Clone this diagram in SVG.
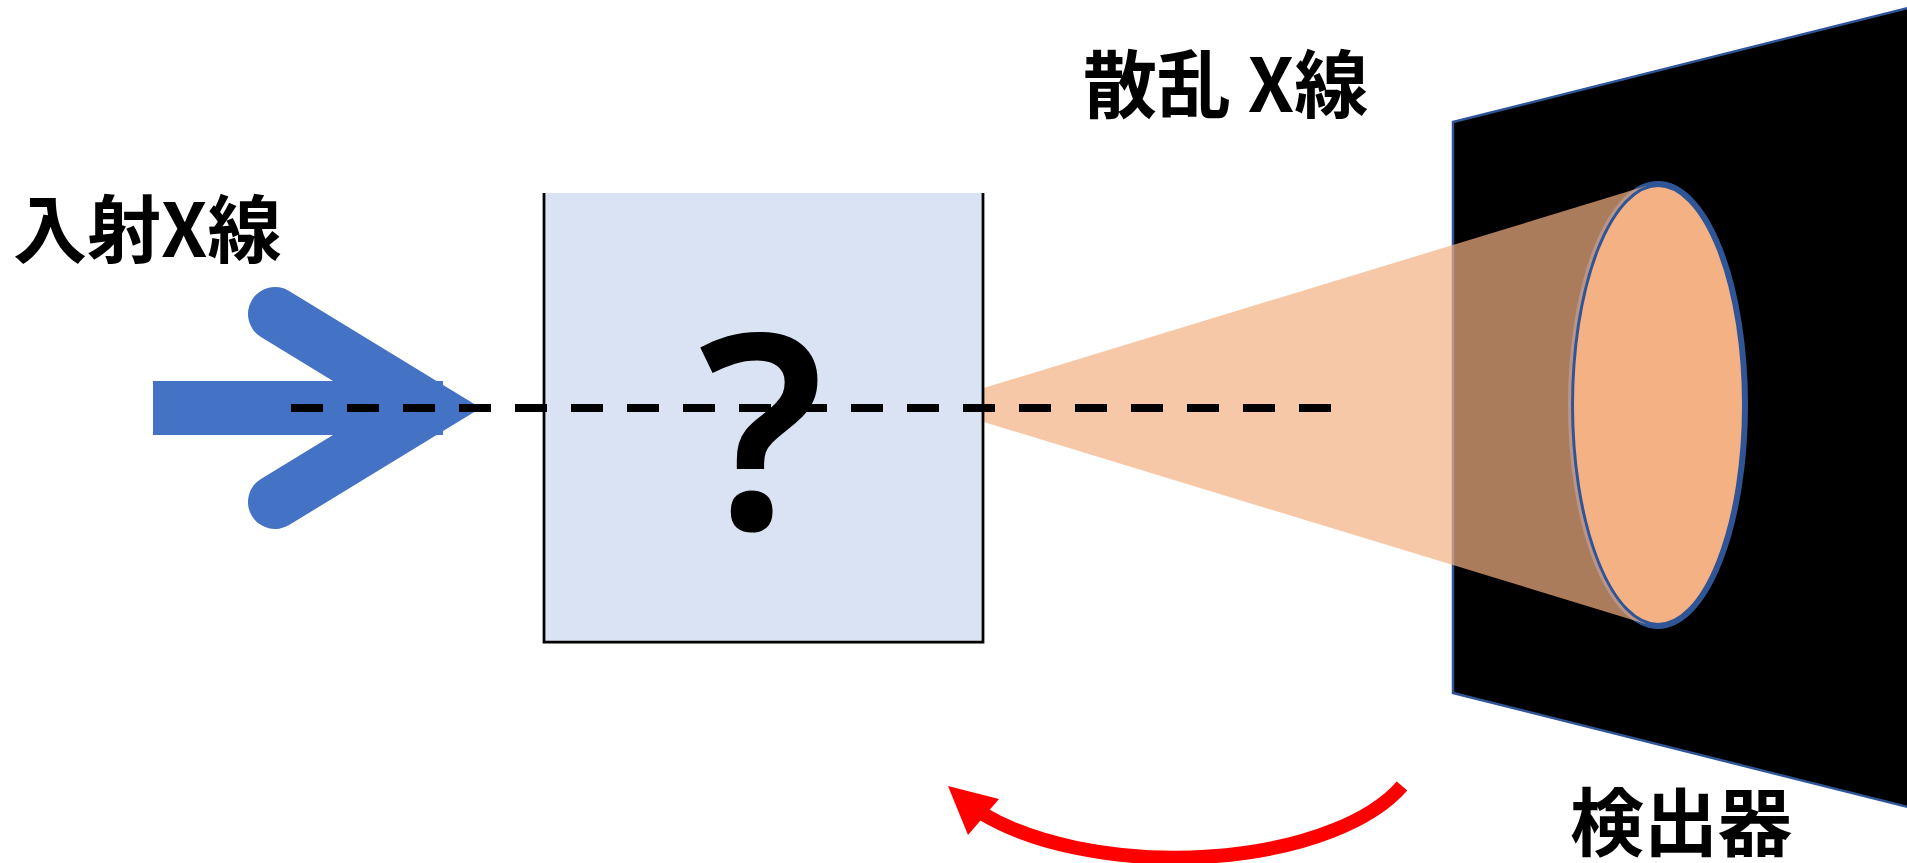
<svg xmlns="http://www.w3.org/2000/svg" width="1907" height="863" viewBox="0 0 1907 863">
  <style>
    .label { font-family: "Noto Sans CJK JP", "Noto Sans", sans-serif; font-weight: 700; font-size: 74px; fill: #000; }
    .qmark { font-family: "Noto Sans", "DejaVu Sans", sans-serif; font-weight: 600; font-size: 272px; fill: #000; }
    .beam { fill: #F4B183; }
    .edge { fill: none; stroke: #2F5597; }
  </style>
  <rect width="1907" height="863" fill="#fff"/>

  <!-- detector plate -->
  <g id="detector">
    <polygon points="1453,122 1912,7 1912,808 1453,693" fill="#000" stroke="#2F5597" stroke-width="2.5"/>
    <ellipse class="beam" cx="1658" cy="405" rx="87" ry="221"/>
    <ellipse class="edge" cx="1658" cy="405" rx="87" ry="221" stroke-width="6"/>
  </g>

  <!-- scattered beam cone (semi-transparent) -->
  <g id="scattered-beam">
    <path class="beam" opacity="0.7" d="M928,405 L1647.6,185.6 A87,221 0 0 0 1647.6,624.4 Z"/>
  </g>

  <!-- sample -->
  <g id="sample">
    <rect x="544" y="193" width="439" height="449" fill="#DAE3F3"/>
    <path d="M544,193 V642 H983 V193" fill="none" stroke="#000" stroke-width="2.75"/>
    <text class="qmark" x="761" y="529" text-anchor="middle">?</text>
  </g>

  <!-- incident beam arrow -->
  <g id="incident-beam">
    <rect x="153" y="381" width="290" height="54" fill="#4472C4"/>
    <polyline points="275,314 429,408 275,502" fill="none" stroke="#4472C4" stroke-width="54" stroke-linecap="round" stroke-linejoin="miter" stroke-miterlimit="10"/>
  </g>

  <!-- connectors -->
  <g id="connectors">
    <line x1="291" y1="408" x2="1331" y2="408" stroke="#000" stroke-width="8" stroke-dasharray="32 24"/>
    <path d="M1402,786 A245,115 0 0 1 983,814" fill="none" stroke="#FF0000" stroke-width="14"/>
    <polygon points="948,786 999,799 968,835" fill="#FF0000"/>
  </g>

  <!-- labels -->
  <g id="label-incident">
    <text class="label" x="13" y="257">入射X線</text>
  </g>
  <g id="label-scattered">
    <text class="label" x="1083" y="112">散乱 X線</text>
  </g>
  <g id="label-detector">
    <text class="label" x="1570" y="850">検出器</text>
  </g>
</svg>
